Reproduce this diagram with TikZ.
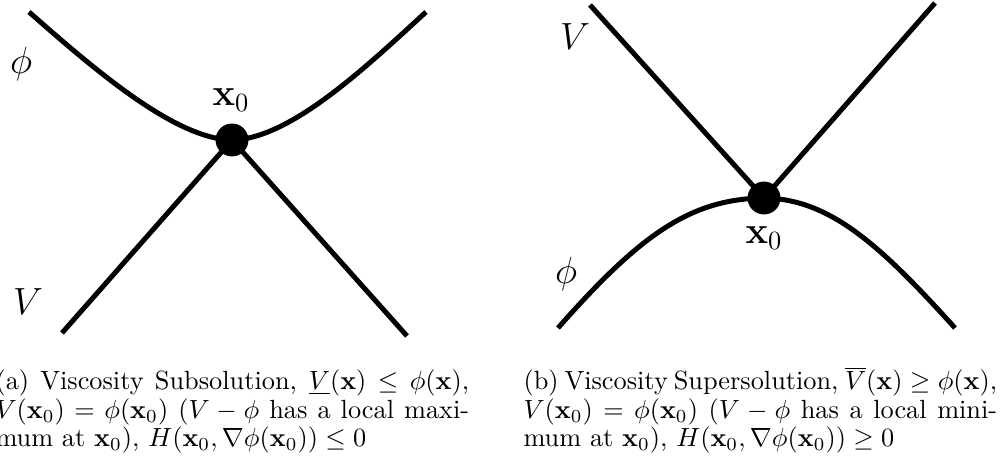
\documentclass[tikz,border=0pt]{standalone}
\usepackage{amsmath,amssymb}
\begin{document}
\begin{tikzpicture}[x=0.38pt,y=-0.38pt,
  curve/.style={line width=1.9pt},
  dotnode/.style={circle,fill=black,inner sep=0pt,minimum size=12.5pt},
  lbl/.style={inner sep=0pt,font=\Large},
  xlbl/.style={inner sep=0pt,font=\Large,anchor=base west},
  captext/.style={inner sep=0pt,anchor=base west}]
\useasboundingbox (0,0) rectangle (1005,463);
\clip (0,0) rectangle (1005,463);

% ---------- panel (a) ----------
\coordinate (aphiL) at (29,12);
\coordinate (aphiR) at (426,12);
\coordinate (aVL) at (62,333);
\coordinate (aVR) at (407,336);
\node[dotnode] (adot) at (232,140) {};
\draw[curve] (aphiL) .. controls (95,70) and (175,139) .. (adot.center)
             .. controls (290,139) and (365,68) .. (aphiR);
\draw[curve] (aVL) -- (adot.center) -- (aVR);
\node[lbl] (aphi) at (21,64) {$\phi$};
\node[lbl] (aV) at (28,302) {$V$};
\node[xlbl] (ax0) at (212,106) {$\mathbf{x}_0$};

% ---------- panel (b) ----------
\coordinate (bVL) at (590,5);
\coordinate (bVR) at (935,3);
\coordinate (bphiL) at (558,328);
\coordinate (bphiR) at (955,328);
\node[dotnode] (bdot) at (764,198) {};
\draw[curve] (bphiL) .. controls (640,235) and (690,199) .. (bdot.center)
             .. controls (830,199) and (880,245) .. (bphiR);
\draw[curve] (bVL) -- (bdot.center) -- (bVR);
\node[lbl] (bV) at (575,37) {$V$};
\node[lbl] (bphi) at (566,274) {$\phi$};
\node[xlbl] (bx0) at (745,244) {$\mathbf{x}_0$};

% ---------- captions ----------
\node[captext] (capa) at (-5,390) {\parbox[t]{180pt}{\fontsize{10}{10.8}\selectfont
\hbox to \linewidth{(a) Viscosity Subsolution, $\underline{V}(\mathbf{x}) \leq \phi(\mathbf{x})$,}
\hbox to \linewidth{$V(\mathbf{x}_0) = \phi(\mathbf{x}_0)$ ($V-\phi$ has a local maxi-}
\hbox{mum at $\mathbf{x}_0$), $H(\mathbf{x}_0,\nabla\phi(\mathbf{x}_0))\leq 0$}}};
\node[captext] (capb) at (523,390) {\parbox[t]{180pt}{\fontsize{10}{10.8}\selectfont
\hbox to \linewidth{(b) Viscosity Supersolution, $\overline{V}(\mathbf{x}) \geq \phi(\mathbf{x})$,}
\hbox to \linewidth{$V(\mathbf{x}_0) = \phi(\mathbf{x}_0)$ ($V-\phi$ has a local mini-}
\hbox{mum at $\mathbf{x}_0$), $H(\mathbf{x}_0,\nabla\phi(\mathbf{x}_0))\geq 0$}}};
\end{tikzpicture}
\end{document}
